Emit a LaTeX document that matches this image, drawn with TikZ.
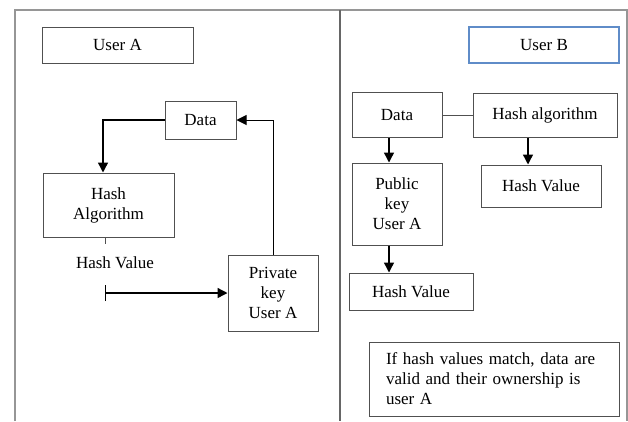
\documentclass[tikz,border=0pt]{standalone}
\usepackage{fontspec}
\setmainfont{Liberation Serif}
\usetikzlibrary{arrows.meta,positioning,calc}
\definecolor{framecol}{RGB}{150,150,150}
\definecolor{boxcol}{RGB}{80,80,80}
\definecolor{ubcol}{RGB}{95,140,200}

\begin{document}
\begin{tikzpicture}[x=1pt,y=-1pt,
  every node/.style={font=\fontsize{17}{20}\selectfont},
  box/.style={draw=boxcol,line width=1pt,align=center,inner sep=2pt},
  arr/.style={-{Triangle[length=10pt,width=10pt]},line width=1.4pt},
  barr/.style={{Bar[width=16pt]}-{Triangle[length=10pt,width=10pt]},line width=1.4pt}]
  \useasboundingbox (0,0) rectangle (628,421);
  % frame
  \draw[framecol,line width=1.6pt] (15,421) -- (15,10) -- (627,10) -- (627,421);
  \draw[black!60,line width=2pt] (340,10) -- (340,421);

  % user A side
  \node[box,minimum width=151pt,minimum height=36pt] (usera) at (117.5,45) {User A};
  \node[box,minimum width=71pt,minimum height=38pt] (dataa) at (200.5,120) {Data};
  \node[box,minimum width=131pt,minimum height=64pt] (hasha) at (108.5,205) {Hash\\Algorithm};
  \node (hvala) at (115,263) {Hash Value};
  \node[box,minimum width=90pt,minimum height=76pt] (privkey) at (273,293) {Private\\key\\User A};
  \coordinate (hvstart) at (105,293);

  \draw[arr] (dataa.west) -| ([xshift=-5.5pt]hasha.north);
  \draw[boxcol,line width=1pt] ([xshift=-3.5pt]hasha.south) -- ++(0,6);
  \draw[barr] (hvstart) -- (privkey.west);
  \draw[arr,line width=1pt] (privkey.north) |- (dataa.east);

  % user B side
  \node[box,draw=ubcol,line width=1.2pt,minimum width=150pt,minimum height=36pt] (userb) at (544,45) {User B};
  \node[box,minimum width=90pt,minimum height=45pt] (datab) at (397,115) {Data};
  \node[box,minimum width=144pt,minimum height=44pt] (hashb) at (545,115) {Hash algorithm};
  \node[box,minimum width=120pt,minimum height=42pt] (hvalb) at (541,186) {Hash Value};
  \node[box,minimum width=90pt,minimum height=82pt] (pubkey) at (397,204) {Public\\key\\User A};
  \node[box,minimum width=124pt,minimum height=37pt] (hvalc) at (411,291.5) {Hash Value};
  \node[box,minimum width=250pt,minimum height=74pt,text width=216pt,align=left]
    (match) at (494,379) {If hash values match, data are\\valid and their ownership is\\user A};

  \draw[boxcol,line width=1pt] (datab.east) -- (hashb.west);
  \draw[arr] ([xshift=-17pt]hashb.south) -- ([xshift=-17pt]hashb.south |- hvalb.north);
  \draw[arr] ([xshift=-8pt]datab.south) -- ([xshift=-8pt]datab.south |- pubkey.north);
  \draw[arr] ([xshift=-8pt]pubkey.south) -- ([xshift=-8pt]pubkey.south |- hvalc.north);
\end{tikzpicture}
\end{document}
